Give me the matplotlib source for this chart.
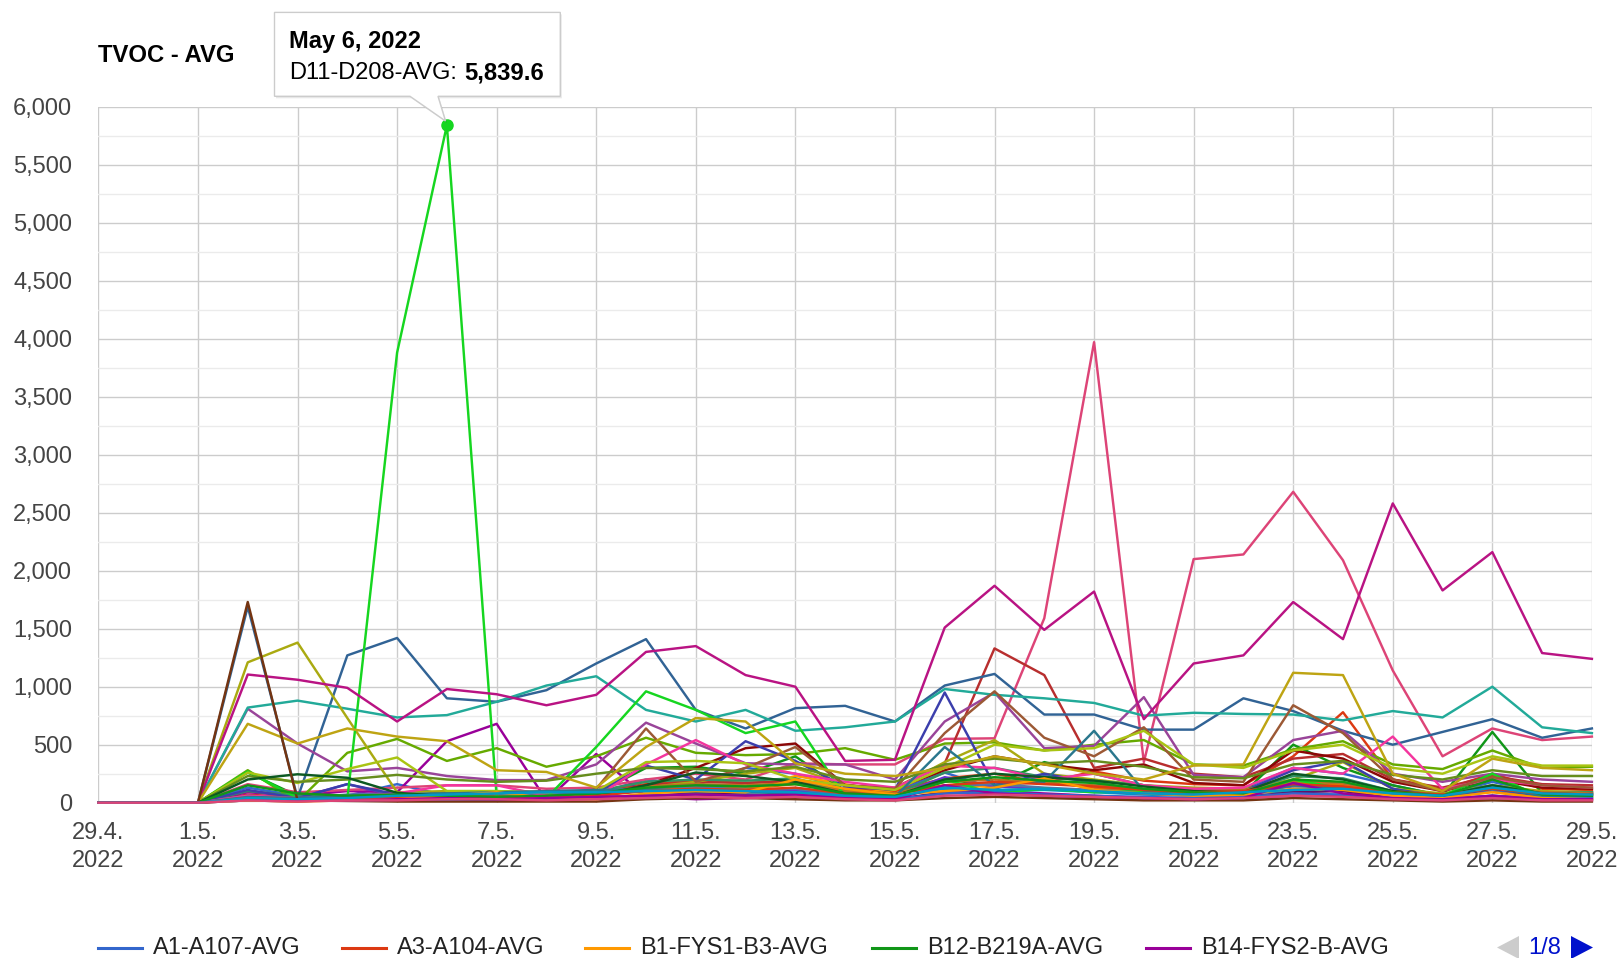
import matplotlib
matplotlib.use('Agg')
import matplotlib.pyplot as plt
from matplotlib.patches import Polygon
import numpy as np
import pandas as pd

plt.rcParams['font.family'] = ['Liberation Sans', 'DejaVu Sans']

W, H = 1624, 958

# x categories: one point per day
dates = pd.date_range('2022-04-29', '2022-05-29', freq='D')
tick_dates = dates[::2]
tick_labels = [f'{d.day}.{d.month}.\n{d.year}' for d in tick_dates]
y_ticks = list(range(0, 6001, 500))

# Series values (29.4. - 29.5.)
a1_a107 = [0, 0, 0, 130, 60, 60, 160, 60, 50, 60, 80, 200, 150, 300, 250, 120, 100, 260, 120, 230, 180, 100, 80, 120, 300, 250, 150, 60, 180, 80, 100]
a3_a104 = [0, 0, 0, 70, 40, 50, 60, 80, 70, 90, 100, 160, 190, 170, 190, 110, 100, 210, 250, 170, 270, 190, 160, 150, 400, 780, 200, 110, 250, 120, 110]
b1_fys1 = [0, 0, 0, 30, 20, 40, 60, 50, 40, 50, 80, 120, 130, 110, 230, 160, 80, 130, 150, 120, 100, 90, 100, 110, 150, 130, 90, 70, 120, 60, 50]
b12_b219a = [0, 0, 0, 260, 60, 60, 80, 60, 50, 50, 80, 300, 310, 250, 400, 100, 60, 200, 150, 350, 250, 150, 100, 80, 500, 300, 150, 60, 610, 80, 90]
b14_fys2 = [0, 0, 0, 90, 60, 100, 90, 530, 680, 20, 420, 50, 30, 40, 50, 40, 30, 80, 100, 80, 60, 40, 30, 40, 60, 70, 30, 20, 40, 30, 20]
b16_b303 = [0, 0, 0, 40, 30, 50, 60, 60, 70, 80, 100, 100, 90, 120, 100, 60, 60, 120, 100, 110, 90, 70, 60, 80, 100, 110, 80, 60, 120, 70, 60]
b2_b112 = [0, 0, 0, 160, 90, 110, 130, 150, 150, 120, 130, 200, 250, 200, 340, 330, 330, 550, 555, 1590, 3970, 350, 2100, 2140, 2680, 2090, 1140, 400, 640, 540, 570]
b4_b118 = [0, 0, 0, 280, 10, 430, 550, 360, 470, 310, 400, 560, 430, 410, 420, 470, 370, 510, 520, 450, 500, 540, 330, 320, 460, 530, 330, 290, 450, 300, 310]
b5_fys3 = [0, 0, 0, 60, 50, 60, 70, 80, 60, 70, 90, 150, 180, 170, 190, 120, 130, 340, 1330, 1100, 300, 380, 250, 220, 380, 420, 200, 130, 230, 160, 150]
b6_b204 = [0, 0, 0, 1690, 40, 1270, 1420, 900, 870, 970, 1200, 1410, 800, 640, 815, 835, 700, 1010, 1110, 760, 760, 630, 630, 900, 790, 620, 500, 610, 720, 560, 640]
b7_b210 = [0, 0, 0, 810, 510, 270, 300, 230, 195, 195, 330, 690, 510, 340, 330, 330, 200, 700, 950, 470, 490, 910, 240, 220, 540, 620, 250, 180, 250, 200, 180]
b8_b301 = [0, 0, 0, 820, 880, 810, 735, 755, 870, 1010, 1090, 800, 700, 800, 620, 650, 700, 980, 930, 900, 860, 750, 775, 765, 760, 710, 790, 735, 1000, 650, 600]
c1_c101 = [0, 0, 0, 1210, 1380, 730, 90, 100, 100, 90, 100, 130, 180, 250, 300, 150, 120, 350, 540, 250, 200, 150, 130, 120, 200, 350, 120, 80, 150, 100, 90]
c2_c105 = [0, 0, 0, 50, 40, 160, 60, 40, 50, 60, 70, 110, 130, 120, 110, 70, 60, 220, 140, 120, 100, 80, 60, 70, 150, 160, 70, 50, 100, 60, 70]
c3_c110 = [0, 0, 0, 30, 20, 30, 40, 50, 60, 50, 60, 110, 140, 120, 160, 100, 80, 150, 170, 180, 130, 90, 80, 100, 170, 150, 80, 60, 110, 50, 40]
c4_c201 = [0, 0, 0, 30, 20, 20, 30, 40, 30, 20, 60, 150, 300, 470, 510, 150, 120, 280, 400, 330, 280, 330, 170, 150, 450, 380, 180, 100, 200, 130, 120]
c5_c206 = [0, 0, 0, 20, 10, 30, 20, 30, 20, 30, 40, 60, 80, 70, 60, 40, 30, 90, 80, 60, 50, 40, 30, 50, 90, 100, 40, 30, 60, 30, 30]
c6_c212 = [0, 0, 0, 100, 60, 50, 70, 80, 90, 70, 100, 180, 200, 190, 210, 90, 70, 260, 300, 220, 190, 150, 110, 100, 230, 210, 100, 70, 150, 80, 90]
c7_c301 = [0, 0, 0, 60, 40, 70, 80, 70, 60, 80, 90, 130, 140, 110, 120, 70, 60, 140, 160, 130, 110, 90, 70, 90, 140, 130, 80, 60, 110, 70, 80]
d1_d103 = [0, 0, 0, 110, 40, 160, 70, 60, 50, 60, 90, 320, 200, 530, 360, 140, 110, 950, 150, 250, 170, 90, 70, 100, 280, 360, 120, 50, 120, 60, 80]
d2_d109 = [0, 0, 0, 40, 30, 40, 50, 60, 50, 60, 80, 140, 160, 150, 170, 100, 80, 180, 200, 170, 150, 120, 100, 110, 180, 170, 100, 70, 130, 90, 80]
d11_d208 = [0, 0, 0, 270, 40, 30, 3880, 5839.6, 50, 40, 480, 960, 800, 600, 700, 50, 40, 200, 80, 120, 90, 100, 60, 50, 200, 120, 80, 60, 250, 40, 50]
d12_d211 = [0, 0, 0, 1105, 1060, 990, 700, 980, 935, 840, 930, 1300, 1350, 1100, 1000, 360, 370, 1510, 1870, 1490, 1820, 720, 1200, 1270, 1730, 1410, 2580, 1830, 2160, 1290, 1240]
d13_d215 = [0, 0, 0, 60, 40, 50, 80, 150, 150, 60, 50, 330, 540, 330, 250, 180, 130, 320, 300, 200, 250, 150, 120, 130, 300, 250, 570, 120, 200, 150, 130]
d14_d302 = [0, 0, 0, 40, 30, 20, 30, 40, 30, 20, 120, 640, 180, 300, 480, 150, 120, 600, 960, 560, 400, 650, 200, 180, 840, 600, 200, 100, 220, 150, 130]
d15_d306 = [0, 0, 0, 260, 170, 290, 390, 100, 100, 90, 100, 350, 360, 340, 200, 150, 110, 300, 500, 450, 470, 620, 330, 300, 450, 500, 300, 250, 400, 320, 320]
e1_e101 = [0, 0, 0, 50, 40, 60, 70, 80, 90, 100, 110, 120, 100, 90, 80, 60, 50, 480, 150, 180, 620, 100, 60, 70, 150, 130, 70, 50, 130, 60, 50]
e2_e104 = [0, 0, 0, 230, 180, 200, 240, 200, 180, 190, 250, 300, 290, 270, 310, 200, 180, 330, 380, 340, 360, 310, 220, 210, 330, 360, 240, 200, 280, 230, 230]
e3_e110 = [0, 0, 0, 680, 510, 640, 570, 530, 280, 265, 130, 480, 730, 700, 340, 250, 230, 300, 400, 330, 250, 200, 320, 330, 1120, 1100, 250, 100, 380, 300, 280]
e4_e201 = [0, 0, 0, 200, 245, 215, 85, 55, 40, 30, 60, 150, 260, 230, 180, 80, 60, 200, 250, 220, 190, 140, 100, 90, 250, 200, 100, 60, 150, 80, 70]
e5_e205 = [0, 0, 0, 1730, 20, 15, 10, 10, 10, 10, 10, 30, 40, 40, 30, 20, 20, 40, 50, 40, 30, 20, 20, 20, 40, 30, 20, 10, 20, 10, 10]
e6_e209 = [0, 0, 0, 20, 15, 20, 25, 30, 30, 40, 50, 60, 70, 60, 70, 40, 30, 80, 90, 70, 60, 50, 40, 50, 80, 70, 40, 30, 60, 40, 40]
f1_f102 = [0, 0, 0, 40, 30, 30, 40, 40, 50, 40, 60, 100, 120, 110, 130, 80, 70, 150, 180, 160, 140, 110, 90, 100, 160, 140, 90, 70, 120, 80, 70]
f2_f107 = [0, 0, 0, 20, 10, 20, 30, 60, 90, 40, 30, 80, 100, 90, 200, 120, 70, 100, 130, 210, 110, 80, 60, 70, 120, 110, 60, 40, 90, 40, 30]
f3_f201 = [0, 0, 0, 150, 80, 60, 70, 60, 50, 60, 80, 130, 150, 140, 160, 80, 60, 180, 220, 190, 170, 120, 90, 80, 200, 180, 90, 60, 200, 70, 60]
f4_f204 = [0, 0, 0, 30, 20, 20, 30, 40, 30, 40, 50, 60, 70, 60, 70, 40, 30, 150, 80, 60, 50, 40, 30, 40, 170, 80, 40, 30, 60, 30, 30]
f5_f301 = [0, 0, 0, 40, 30, 40, 60, 70, 80, 90, 90, 100, 110, 100, 90, 60, 50, 130, 110, 120, 100, 80, 70, 90, 110, 120, 80, 60, 130, 80, 70]
f6_f305 = [0, 0, 0, 20, 10, 20, 20, 30, 30, 20, 30, 40, 50, 40, 50, 30, 20, 60, 70, 60, 50, 40, 30, 40, 60, 50, 30, 20, 40, 20, 20]

series = [
    ('A1-A107-AVG', a1_a107), ('A3-A104-AVG', a3_a104), ('B1-FYS1-B3-AVG', b1_fys1),
    ('B12-B219A-AVG', b12_b219a), ('B14-FYS2-B-AVG', b14_fys2), ('B16-B303-AVG', b16_b303),
    ('B2-B112-AVG', b2_b112), ('B4-B118-AVG', b4_b118), ('B5-FYS3-AVG', b5_fys3),
    ('B6-B204-AVG', b6_b204), ('B7-B210-AVG', b7_b210), ('B8-B301-AVG', b8_b301),
    ('C1-C101-AVG', c1_c101), ('C2-C105-AVG', c2_c105), ('C3-C110-AVG', c3_c110),
    ('C4-C201-AVG', c4_c201), ('C5-C206-AVG', c5_c206), ('C6-C212-AVG', c6_c212),
    ('C7-C301-AVG', c7_c301), ('D1-D103-AVG', d1_d103), ('D2-D109-AVG', d2_d109),
    ('D11-D208-AVG', d11_d208), ('D12-D211-AVG', d12_d211), ('D13-D215-AVG', d13_d215),
    ('D14-D302-AVG', d14_d302), ('D15-D306-AVG', d15_d306), ('E1-E101-AVG', e1_e101),
    ('E2-E104-AVG', e2_e104), ('E3-E110-AVG', e3_e110), ('E4-E201-AVG', e4_e201),
    ('E5-E205-AVG', e5_e205), ('E6-E209-AVG', e6_e209), ('F1-F102-AVG', f1_f102),
    ('F2-F107-AVG', f2_f107), ('F3-F201-AVG', f3_f201), ('F4-F204-AVG', f4_f204),
    ('F5-F301-AVG', f5_f301), ('F6-F305-AVG', f6_f305),
]

# Google Charts default palette (cycles)
palette = ['#3366cc', '#dc3912', '#ff9900', '#109618', '#990099', '#0099c6', '#dd4477',
           '#66aa00', '#b82e2e', '#316395', '#994499', '#22aa99', '#aaaa11', '#6633cc',
           '#e67300', '#8b0707', '#651067', '#329262', '#5574a6', '#3b3eac', '#b77322',
           '#16d620', '#b91383', '#f4359e', '#9c5935', '#a9c413', '#2a778d', '#668d1c',
           '#bea413', '#0c5922', '#743411']

highlight = 'D11-D208-AVG'
highlight_idx = 7  # May 6


def fx(px):
    return px / W


def fy(py):
    return 1 - py / H


fig = plt.figure(figsize=(W / 100, H / 100), dpi=100)
ax = fig.add_axes([fx(98.4), fy(802.7), (1591.9 - 98.4) / W, (802.7 - 106.7) / H])

for k, (name, vals) in enumerate(series):
    ax.plot(dates, vals, color=palette[k % len(palette)], lw=1.75, clip_on=False)

# selected point
hl_vals = dict(series)[highlight]
hl_col = palette[[n for n, _ in series].index(highlight) % len(palette)]
ax.plot(dates[highlight_idx], hl_vals[highlight_idx], 'o', ms=8, color=hl_col,
        clip_on=False, zorder=10)

ax.set_xlim(dates[0], dates[-1])
ax.set_ylim(0, 6000)
ax.set_xticks(tick_dates)
ax.set_xticklabels(tick_labels, linespacing=1.35)
ax.set_yticks(y_ticks)
ax.set_yticklabels([f'{v:,}' for v in y_ticks])
ax.set_yticks(np.arange(250, 6000, 500), minor=True)
ax.grid(which='major', color='#cccccc', lw=1)
ax.grid(which='minor', axis='y', color='#ebebeb', lw=1)
ax.set_axisbelow(True)
for s in ax.spines.values():
    s.set_visible(False)
ax.tick_params(axis='both', which='both', length=0, labelsize=17, colors='#444444')
ax.tick_params(axis='y', pad=19)
ax.tick_params(axis='x', pad=14)

fig.text(fx(98), fy(56), 'TVOC - AVG', fontsize=17.2, fontweight='bold', va='center', color='#000000')

# tooltip
tip = [(274.5, 12.4), (560.3, 12.4), (560.3, 96.3), (438, 96.3), (445.5, 121),
       (410, 96.3), (274.5, 96.3)]
shadow = Polygon([(fx(x + 1.5), fy(y + 2)) for x, y in tip], closed=True,
                 transform=fig.transFigure, facecolor='#00000018', edgecolor='none')
box = Polygon([(fx(x), fy(y)) for x, y in tip], closed=True, transform=fig.transFigure,
              facecolor='white', edgecolor='#cccccc', lw=1)
fig.add_artist(shadow)
fig.add_artist(box)
d = dates[highlight_idx]
fig.text(fx(289), fy(41.5), f'{d:%B} {d.day}, {d.year}', fontsize=17, fontweight='bold',
         va='center', color='#000000')
lab = fig.text(fx(289), fy(72.5), f'{highlight}:', fontsize=17, va='center', color='#000000')
fig.canvas.draw()
bb = lab.get_window_extent()
fig.text(fx(bb.x1 + 7), fy(72.5), f'{hl_vals[highlight_idx]:,.1f}', fontsize=17.2,
         fontweight='bold', va='center', color='#000000')

# legend (page 1 of 8)
leg_y = 947.5
leg_x = [98, 342, 585, 872, 1146]
for k in range(5):
    x0 = leg_x[k]
    fig.add_artist(plt.Line2D([fx(x0), fx(x0 + 44)], [fy(leg_y), fy(leg_y)],
                              transform=fig.transFigure, color=palette[k], lw=2.2))
    fig.text(fx(x0 + 55), fy(leg_y), series[k][0], fontsize=17, va='center', color='#222222')

fig.add_artist(Polygon([(fx(1497), fy(leg_y)), (fx(1519), fy(leg_y - 11.5)), (fx(1519), fy(leg_y + 11.5))],
                       closed=True, transform=fig.transFigure, facecolor='#cccccc',
                       edgecolor='none'))
fig.text(fx(1545), fy(leg_y), '1/8', fontsize=17, va='center', ha='center', color='#0011cc')
fig.add_artist(Polygon([(fx(1593), fy(leg_y)), (fx(1571), fy(leg_y - 11.5)), (fx(1571), fy(leg_y + 11.5))],
                       closed=True, transform=fig.transFigure, facecolor='#0011cc',
                       edgecolor='none'))

fig.savefig('out.png', dpi=100)
